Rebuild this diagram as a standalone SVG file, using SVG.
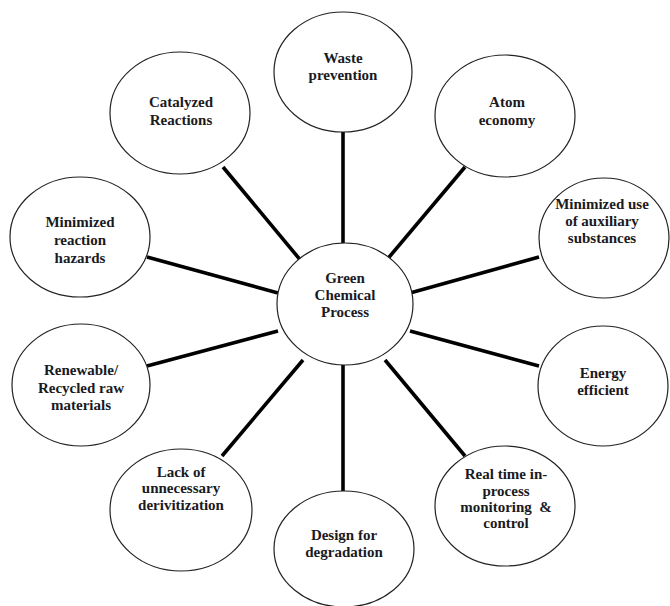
<svg xmlns="http://www.w3.org/2000/svg" width="670" height="606" viewBox="0 0 670 606">
<style>
.n ellipse{fill:#fff;stroke:#222;stroke-width:1.2}
.n text{font-family:"Liberation Serif","Times New Roman",serif;font-weight:bold;font-size:15px;fill:#1a1a22;text-anchor:middle;white-space:pre}
.c line{stroke:#000;stroke-width:3.6;stroke-linecap:butt}
</style>
<rect width="670" height="606" fill="#fff"/>
<g class="c" id="connectors">
<line x1="343" y1="132" x2="343" y2="243"/>
<line x1="223" y1="167" x2="302" y2="262"/>
<line x1="465" y1="167" x2="385" y2="262"/>
<line x1="539" y1="257" x2="410" y2="293"/>
<line x1="147" y1="257" x2="278" y2="293"/>
<line x1="147" y1="366" x2="278" y2="331"/>
<line x1="222" y1="456" x2="303" y2="360"/>
<line x1="343" y1="365" x2="343" y2="491"/>
<line x1="385" y1="360" x2="465" y2="456"/>
<line x1="410" y1="331" x2="539" y2="366"/>
</g>
<g class="n" id="center"><ellipse cx="345" cy="304" rx="68" ry="61"/>
<text x="345" y="283">Green</text><text x="345" y="300">Chemical</text><text x="345" y="317">Process</text></g>
<g class="n" id="waste"><ellipse cx="343" cy="72" rx="69" ry="60"/>
<text x="343" y="63">Waste</text><text x="343" y="80">prevention</text></g>
<g class="n" id="atom"><ellipse cx="505" cy="116" rx="70" ry="61"/>
<text x="507" y="107">Atom</text><text x="507" y="125">economy</text></g>
<g class="n" id="auxiliary"><ellipse cx="604" cy="238" rx="65" ry="60"/>
<text x="602" y="209">Minimized use</text><text x="602" y="226">of auxiliary</text><text x="602" y="243">substances</text></g>
<g class="n" id="energy"><ellipse cx="603" cy="386" rx="65" ry="60"/>
<text x="603" y="378">Energy</text><text x="603" y="395">efficient</text></g>
<g class="n" id="monitoring"><ellipse cx="505" cy="506" rx="70" ry="60"/>
<text x="506" y="479">Real time in-</text><text x="506" y="496">process</text><text x="506" y="512">monitoring  &amp;</text><text x="506" y="528">control</text></g>
<g class="n" id="degradation"><ellipse cx="344" cy="549" rx="70" ry="58"/>
<text x="344" y="540">Design for</text><text x="344" y="557">degradation</text></g>
<g class="n" id="derivitization"><ellipse cx="181" cy="510" rx="71" ry="61"/>
<text x="181" y="477">Lack of</text><text x="181" y="493">unnecessary</text><text x="181" y="510">derivitization</text></g>
<g class="n" id="renewable"><ellipse cx="81" cy="385" rx="69" ry="61"/>
<text x="81" y="375">Renewable/</text><text x="81" y="393">Recycled raw</text><text x="81" y="410">materials</text></g>
<g class="n" id="hazards"><ellipse cx="80" cy="237" rx="70" ry="60"/>
<text x="80" y="227">Minimized</text><text x="80" y="245">reaction</text><text x="80" y="263">hazards</text></g>
<g class="n" id="catalyzed"><ellipse cx="180" cy="113" rx="70" ry="61"/>
<text x="181" y="107">Catalyzed</text><text x="181" y="125">Reactions</text></g>
</svg>
